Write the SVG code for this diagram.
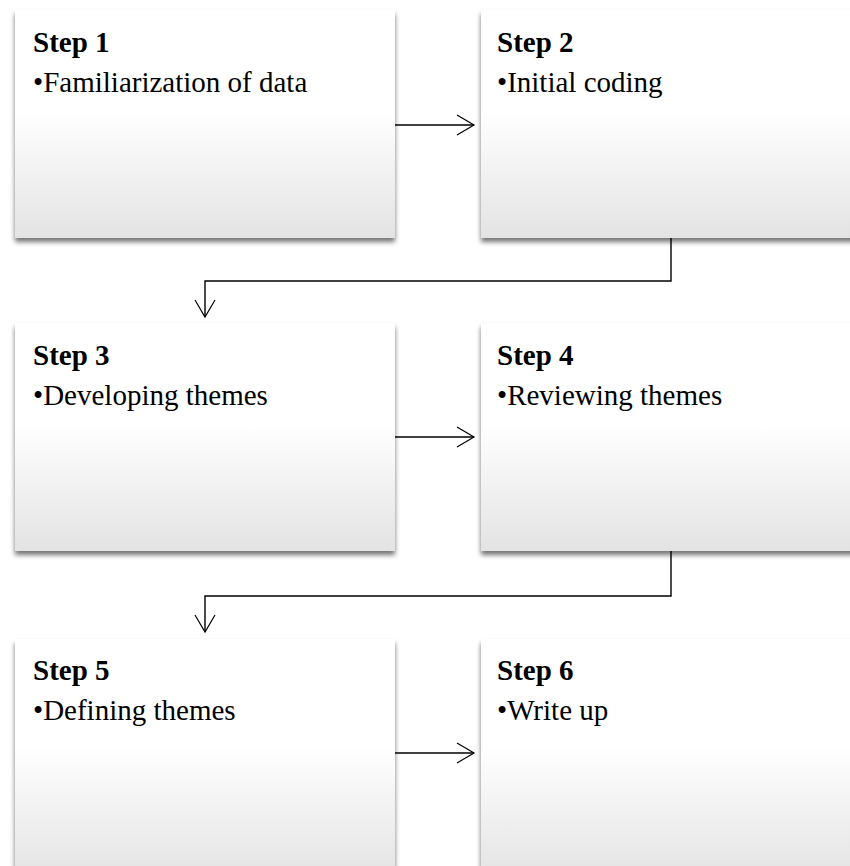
<svg xmlns="http://www.w3.org/2000/svg" width="850" height="866" viewBox="0 0 850 866">
<defs>
<linearGradient id="g" x1="0" y1="0" x2="0" y2="1">
<stop offset="0" stop-color="#ffffff"/>
<stop offset="0.45" stop-color="#ffffff"/>
<stop offset="1" stop-color="#e3e3e3"/>
</linearGradient>
<filter id="sh" x="-5%" y="-5%" width="110%" height="115%">
<feGaussianBlur in="SourceAlpha" stdDeviation="2.5"/>
<feOffset dx="0" dy="4" result="b"/>
<feComponentTransfer><feFuncA type="linear" slope="0.55"/></feComponentTransfer>
<feMerge><feMergeNode/><feMergeNode in="SourceGraphic"/></feMerge>
</filter>
<marker id="ah" markerWidth="20" markerHeight="24" refX="18" refY="11" orient="auto" markerUnits="userSpaceOnUse">
<path d="M1,1 L18,11 L1,21" fill="none" stroke="#000" stroke-width="1.2"/>
</marker>
</defs>
<style>
.box{fill:url(#g);filter:url(#sh);}
.t{font-family:"Liberation Serif","Times New Roman",serif;font-size:29px;fill:#000;}
.b{font-weight:bold;}
.c{fill:none;stroke:#000;stroke-width:1.4;marker-end:url(#ah);}
</style>
<rect width="850" height="866" fill="#fff"/>
<g id="step1"><rect class="box" x="15" y="10" width="380" height="228"/><text class="t b" x="33" y="52">Step 1</text><text class="t" x="33" y="92">•Familiarization of data</text></g>
<g id="step2"><rect class="box" x="481" y="10" width="380" height="228"/><text class="t b" x="497" y="52">Step 2</text><text class="t" x="497" y="92">•Initial coding</text></g>
<g id="step3"><rect class="box" x="15" y="323" width="380" height="228"/><text class="t b" x="33" y="365">Step 3</text><text class="t" x="33" y="405">•Developing themes</text></g>
<g id="step4"><rect class="box" x="481" y="323" width="380" height="228"/><text class="t b" x="497" y="365">Step 4</text><text class="t" x="497" y="405">•Reviewing themes</text></g>
<g id="step5"><rect class="box" x="15" y="639" width="380" height="240"/><text class="t b" x="33" y="680">Step 5</text><text class="t" x="33" y="720">•Defining themes</text></g>
<g id="step6"><rect class="box" x="481" y="639" width="380" height="240"/><text class="t b" x="497" y="680">Step 6</text><text class="t" x="497" y="720">•Write up</text></g>
<g id="connectors">
<path class="c" d="M395,125 H474"/>
<path class="c" d="M671,238 V281 H205 V317"/>
<path class="c" d="M395,437 H474"/>
<path class="c" d="M671,551 V596 H205 V632"/>
<path class="c" d="M395,753 H474"/>
</g>
</svg>
